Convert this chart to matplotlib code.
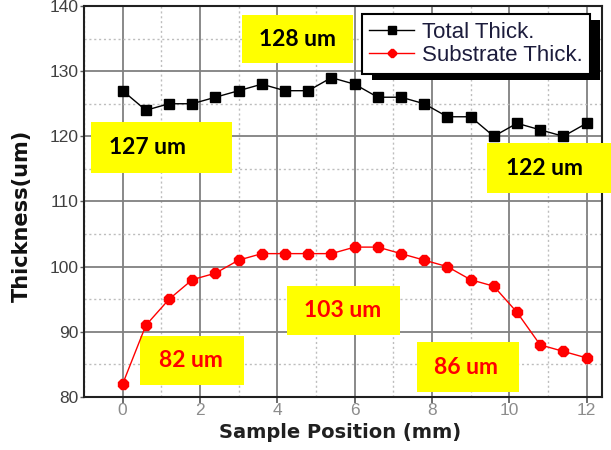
import matplotlib
matplotlib.use("Agg")
import matplotlib.pyplot as plt
from matplotlib.patches import Rectangle
from matplotlib.ticker import MultipleLocator

# measured data (mm, um)
pos = [0, 0.6, 1.2, 1.8, 2.4, 3.0, 3.6, 4.2, 4.8, 5.4, 6.0,
       6.6, 7.2, 7.8, 8.4, 9.0, 9.6, 10.2, 10.8, 11.4, 12.0]
total = [127, 124, 125, 125, 126, 127, 128, 127, 127, 129, 128,
         126, 126, 125, 123, 123, 120, 122, 121, 120, 122]
substrate = [82, 91, 95, 98, 99, 101, 102, 102, 102, 102, 103,
             103, 102, 101, 100, 98, 97, 93, 88, 87, 86]

# yellow call-out boxes: text, colour, box (x0, y0, x1, y1), text centre
notes = [
    ("127 um", "black", (-0.83, 114.4, 2.84, 122.2), (0.65, 118.3)),
    ("128 um", "black", (3.08, 131.25, 5.97, 138.6), (4.51, 134.9)),
    ("122 um", "black", (9.43, 111.3, 12.7, 119.0), (10.9, 115.1)),
    ("82 um", "red", (0.44, 81.84, 3.15, 89.36), (1.76, 85.6)),
    ("103 um", "red", (4.24, 89.52, 7.18, 97.04), (5.69, 93.3)),
    ("86 um", "red", (7.62, 80.77, 10.26, 88.44), (8.89, 84.6)),
]

fig = plt.figure(figsize=(6.11, 4.5), dpi=100)
ax = fig.add_axes([0.1375, 0.1178, 0.8478, 0.8689])

ax.plot(pos, total, color="black", lw=1, marker="s", ms=6.5,
        label="Total Thick.", zorder=4)
ax.plot(pos, substrate, color="red", lw=1, marker="8", ms=8,
        label="Substrate Thick.", zorder=4)

ax.set_xlim(-1, 12.4)
ax.set_ylim(80, 140)
ax.xaxis.set_major_locator(MultipleLocator(2))
ax.xaxis.set_minor_locator(MultipleLocator(1))
ax.yaxis.set_major_locator(MultipleLocator(10))
ax.yaxis.set_minor_locator(MultipleLocator(5))
ax.grid(which="major", color="#808080", lw=1.3, zorder=0)
ax.grid(which="minor", color="#bdbdbd", lw=1, ls=(0, (1.5, 2)), zorder=0)
ax.set_axisbelow(True)

for s in ax.spines.values():
    s.set_linewidth(1.5)
    s.set_color("#202020")

ax.tick_params(axis="y", which="major", direction="out", length=3, width=1,
               color="#606060", pad=1, labelsize=12.5, labelcolor="#404040")
ax.tick_params(axis="x", which="major", direction="out", length=4, width=1.3,
               color="#606060", pad=0, labelsize=12.5, labelcolor="#8c8c8c")
ax.tick_params(which="minor", length=0)
for lab in ax.get_xticklabels() + ax.get_yticklabels():
    lab.set_fontfamily("Liberation Sans")

ax.set_xlabel("Sample Position (mm)", fontsize=14, fontweight="bold",
              family="DejaVu Sans", color="#202020")
ax.set_ylabel("Thickness(um)", fontsize=15, fontweight="bold",
              family="DejaVu Sans", color="#111111")
ax.xaxis.set_label_coords(0.495, -0.066)
ax.yaxis.set_label_coords(-0.10, 0.463)

for txt, col, (x0, y0, x1, y1), (tx, ty) in notes:
    ax.add_patch(Rectangle((x0, y0), x1 - x0, y1 - y0, facecolor="#ffff00",
                           edgecolor="none", zorder=3, clip_on=False))
    ax.text(tx, ty, txt, color=col, fontsize=16.5, fontweight="bold",
            family=["Lato", "DejaVu Sans"], ha="center", va="center",
            zorder=5, clip_on=False)

leg = ax.legend(loc="upper right", bbox_to_anchor=(0.977, 0.98),
                borderaxespad=0, fancybox=False, framealpha=1,
                edgecolor="black", handlelength=2.0,
                handletextpad=0.35, labelspacing=0.1, borderpad=0.35,
                prop={"family": "Liberation Sans", "size": 16})
leg.get_frame().set_linewidth(1.5)
leg.set_zorder(7)
for t in leg.get_texts():
    t.set_color("#1c1c3c")
for h in leg.legend_handles:
    h.set_markersize(5.5)

# solid drop shadow behind the legend frame
fig.canvas.draw()
bb = leg.get_window_extent()
sh = Rectangle((bb.x0 + 10, bb.y0 - 6), bb.width, bb.height,
               transform=None, facecolor="black", edgecolor="none", zorder=6)
ax.add_artist(sh)

fig.savefig("out.png", dpi=100)
